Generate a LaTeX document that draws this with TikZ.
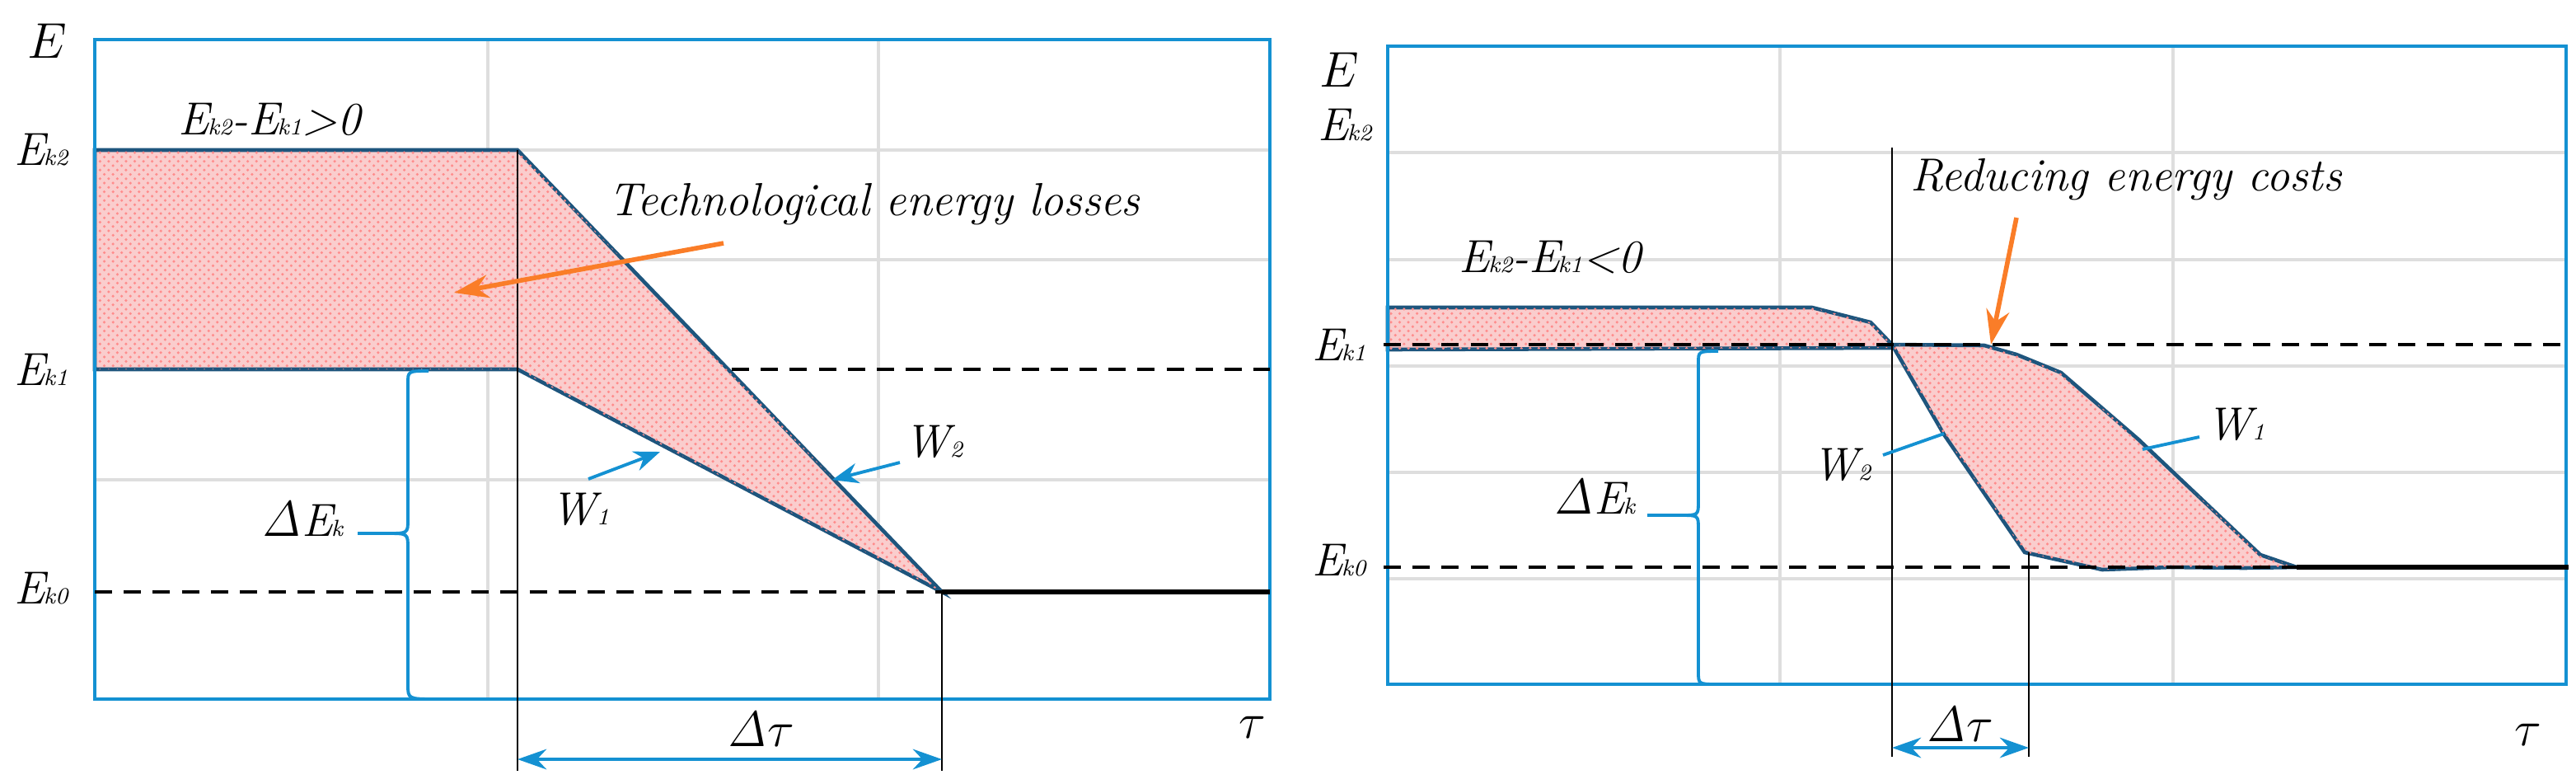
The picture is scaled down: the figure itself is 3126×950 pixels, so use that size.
\documentclass[tikz,border=0pt]{standalone}
\usepackage{amsmath}
\usetikzlibrary{arrows.meta,patterns}
\definecolor{bx}{RGB}{20,145,210}
\definecolor{gr}{RGB}{222,222,222}
\definecolor{ol}{RGB}{30,85,125}
\definecolor{pk}{RGB}{250,205,205}
\definecolor{org}{RGB}{250,125,40}
\newcommand{\Ek}[1]{E\kern-0.5pt{\footnotesize #1}}
\tikzset{
 lbl/.style={font=\fontsize{16}{18}\selectfont\itshape, inner sep=1pt},
 box/.style={draw=bx, line width=1.2pt},
 grid/.style={draw=gr, line width=1.1pt},
 curve/.style={draw=ol, line width=1.3pt, fill=pk, postaction={pattern=crosshatch dots, pattern color=red!45}},
 dsh/.style={line width=1.4pt, dash pattern=on 6pt off 4pt},
 solid0/.style={line width=1.6pt},
 thin0/.style={line width=0.8pt},
 bl/.style={draw=bx, line width=1.1pt},
 blarr/.style={draw=bx, line width=1.1pt, -{Stealth[length=9pt,width=7pt]}},
 dim/.style={draw=bx, line width=1.1pt, {Stealth[length=10pt,width=7pt]}-{Stealth[length=10pt,width=7pt]}},
 oarr/.style={draw=org, line width=1.6pt, -{Stealth[length=12pt,width=8pt]}},
}
\begin{document}
\begin{tikzpicture}[x=0.01cm,y=-0.01cm]
\useasboundingbox (0,0) rectangle (3126,950);
% ---------- LEFT ----------
\draw[grid] (115,182) -- (1541,182) (115,315) -- (1541,315) (115,582) -- (1541,582);
\draw[grid] (592,48) -- (592,848) (1066,48) -- (1066,848);
\coordinate (a2) at (115,182); \coordinate (c2) at (628,182);
\coordinate (a1) at (115,448); \coordinate (c1) at (628,448);
\coordinate (p0) at (1143,718);
\path[curve] (a2) -- (c2) -- (p0) -- (c1) -- (a1) -- cycle;
\draw[box] (115,48) rectangle (1541,848);
\draw[dsh] (888,448) -- (1541,448);
\draw[dsh] (115,718) -- (p0);
\draw[solid0] (p0) -- (1541,718);
\coordinate (l1) at (628,935); \coordinate (l2) at (1143,935);
\draw[thin0] (c2) -- (l1) (p0) -- (l2);
\coordinate (d1) at (628,921); \coordinate (d2) at (1143,921);
\draw[dim] (d1) -- (d2);
\draw[bl] (530,848) .. controls (495,848) .. (495,830) -- (495,665) .. controls (495,647) .. (470,647) -- (434,647);
\draw[bl] (520,450) .. controls (495,450) .. (495,465) -- (495,630) .. controls (495,647) .. (470,647);
\node[lbl] (E1) at (57,50) {$E$};
\node[lbl] (k2l) at (50,182) {\Ek{k2}};
\node[lbl] (k1l) at (50,448) {\Ek{k1}};
\node[lbl] (k0l) at (50,714) {\Ek{k0}};
\node[lbl] (dl) at (327,145) {\Ek{k2}-\Ek{k1}>0};
\node[lbl] (tel) at (1061,248) {Technological energy losses};
\coordinate (ot) at (878,295); \coordinate (oh) at (551,355);
\draw[oarr] (ot) -- (oh);
\node[lbl] (dE1) at (367,630) {$\mathit{\Delta}$\Ek{k}};
\node[lbl] (W1l) at (704,618) {W{\footnotesize 1}};
\coordinate (w1a) at (714,581); \coordinate (w1b) at (801,548);
\draw[blarr] (w1a) -- (w1b);
\node[lbl] (W2l) at (1133,536) {W{\footnotesize 2}};
\coordinate (w2a) at (1092,561); \coordinate (w2b) at (1010,582);
\draw[blarr] (w2a) -- (w2b);
\node[lbl] (dt1) at (923,885) {$\mathit{\Delta}\tau$};
\node[lbl] (t1) at (1520,882) {$\tau$};
% ---------- RIGHT ----------
\draw[grid] (1684,185) -- (3114,185) (1684,315) -- (3114,315) (1684,444) -- (3114,444) (1684,573) -- (3114,573) (1684,702) -- (3114,702);
\draw[grid] (2160,56) -- (2160,830) (2637,56) -- (2637,830);
\coordinate (x0) at (2296,418);
\path[curve] (1684,373) -- (2199,373) -- (2270,391) -- (x0) -- (2296,422) -- (1684,424) -- cycle;
\path[curve] (x0) -- (2359,527) -- (2457,670) -- (2551,691) -- (2634,688) -- (2723,689) -- (2787,688)
  -- (2743,673) -- (2595,533) -- (2501,452) -- (2447,430) -- (2408,419) -- cycle;
\draw[box] (1684,56) rectangle (3114,830);
\draw[dsh] (1679,418) -- (3114,418);
\draw[dsh] (1679,688) -- (2787,688);
\coordinate (q0) at (2787,688);
\draw[solid0] (q0) -- (3117,688);
\coordinate (v1t) at (2296,179); \coordinate (v1b) at (2296,918);
\coordinate (v2t) at (2462,670); \coordinate (v2b) at (2462,918);
\draw[thin0] (v1t) -- (v1b) (v2t) -- (v2b);
\coordinate (e1) at (2296,907); \coordinate (e2) at (2462,907);
\draw[dim] (e1) -- (e2);
\draw[bl] (2085,830) .. controls (2061,830) .. (2061,815) -- (2061,642) .. controls (2061,625) .. (2040,625) -- (1999,625);
\draw[bl] (2085,426) .. controls (2061,426) .. (2061,440) -- (2061,608) .. controls (2061,625) .. (2040,625);
\node[lbl] (E2) at (1625,85) {$E$};
\node[lbl] (k2r) at (1632,152) {\Ek{k2}};
\node[lbl] (k1r) at (1625,418) {\Ek{k1}};
\node[lbl] (k0r) at (1625,680) {\Ek{k0}};
\node[lbl] (dr) at (1881,312) {\Ek{k2}-\Ek{k1}<0};
\node[lbl] (rec) at (2580,218) {Reducing energy costs};
\coordinate (rt) at (2447,264); \coordinate (rh) at (2416,418);
\draw[oarr] (rt) -- (rh);
\node[lbl] (dE2) at (1935,603) {$\mathit{\Delta}$\Ek{k}};
\node[lbl] (W1r) at (2713,515) {W{\footnotesize 1}};
\coordinate (r1a) at (2669,530); \coordinate (r1b) at (2600,545);
\draw[bl] (r1a) -- (r1b);
\node[lbl] (W2r) at (2235,564) {W{\footnotesize 2}};
\coordinate (r2a) at (2285,552); \coordinate (r2b) at (2359,526);
\draw[bl] (r2a) -- (r2b);
\node[lbl] (dt2) at (2378,879) {$\mathit{\Delta}\tau$};
\node[lbl] (t2) at (3068,891) {$\tau$};
\end{tikzpicture}
\end{document}
